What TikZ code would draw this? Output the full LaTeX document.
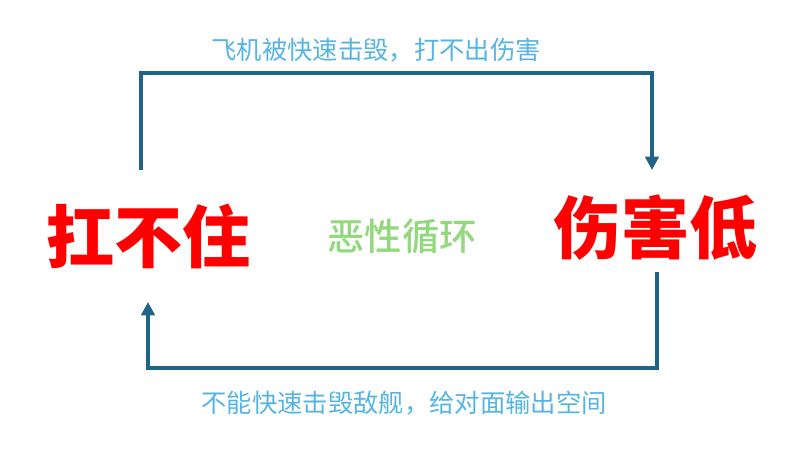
\documentclass[tikz,border=0pt]{standalone}
\usepackage{fontspec}
\usepackage{tikz}
\usetikzlibrary{calc,positioning,arrows.meta}
\newfontfamily\cjk{Noto Sans CJK SC}
\newfontfamily\cjkblack{Noto Sans CJK SC Black}
\newfontfamily\cjkmedium{Noto Sans CJK SC Medium}
\definecolor{flowblue}{RGB}{31,100,135}
\definecolor{noteblue}{RGB}{86,180,226}
\definecolor{loopgreen}{RGB}{146,217,125}
\tikzset{big/.style={text=red,font=\cjkblack\fontsize{51}{51}\selectfont,inner sep=0pt},note/.style={text=noteblue,font=\cjk\fontsize{19}{19}\selectfont,inner sep=0pt}}
\tikzstyle{flow} = [line width=2.5pt,flowblue,-{Triangle[width=10pt,length=10pt]}]

\begin{document}
\begin{tikzpicture}[x=0.75pt,y=0.75pt,
			mid/.style={text=loopgreen,font=\cjkmedium\fontsize{28}{28}\selectfont,inner sep=0pt}]
		\useasboundingbox (0,0) rectangle (800,470);

		\node[big] (kbz) at (148,234) {扛不住};
		\node[big] (shl) at (655,242) {伤害低};
		\node[mid] (loop) at (402,233) {恶性循环};
		\node[note] (topnote) at (376,420) {飞机被快速击毁，打不出伤害};
		\node[note] (botnote) at (404,67) {不能快速击毁敌舰，给对面输出空间};

		\draw[flow] ([shift={(-7,66)}]kbz.center) -- ++(0,97) -| ([shift={(-3,58)}]shl.center);
		\draw[flow] ([shift={(2,-44)}]shl.center) -- ++(0,-96) -| ([shift={(0,-66)}]kbz.center);
	\end{tikzpicture}
\end{document}
